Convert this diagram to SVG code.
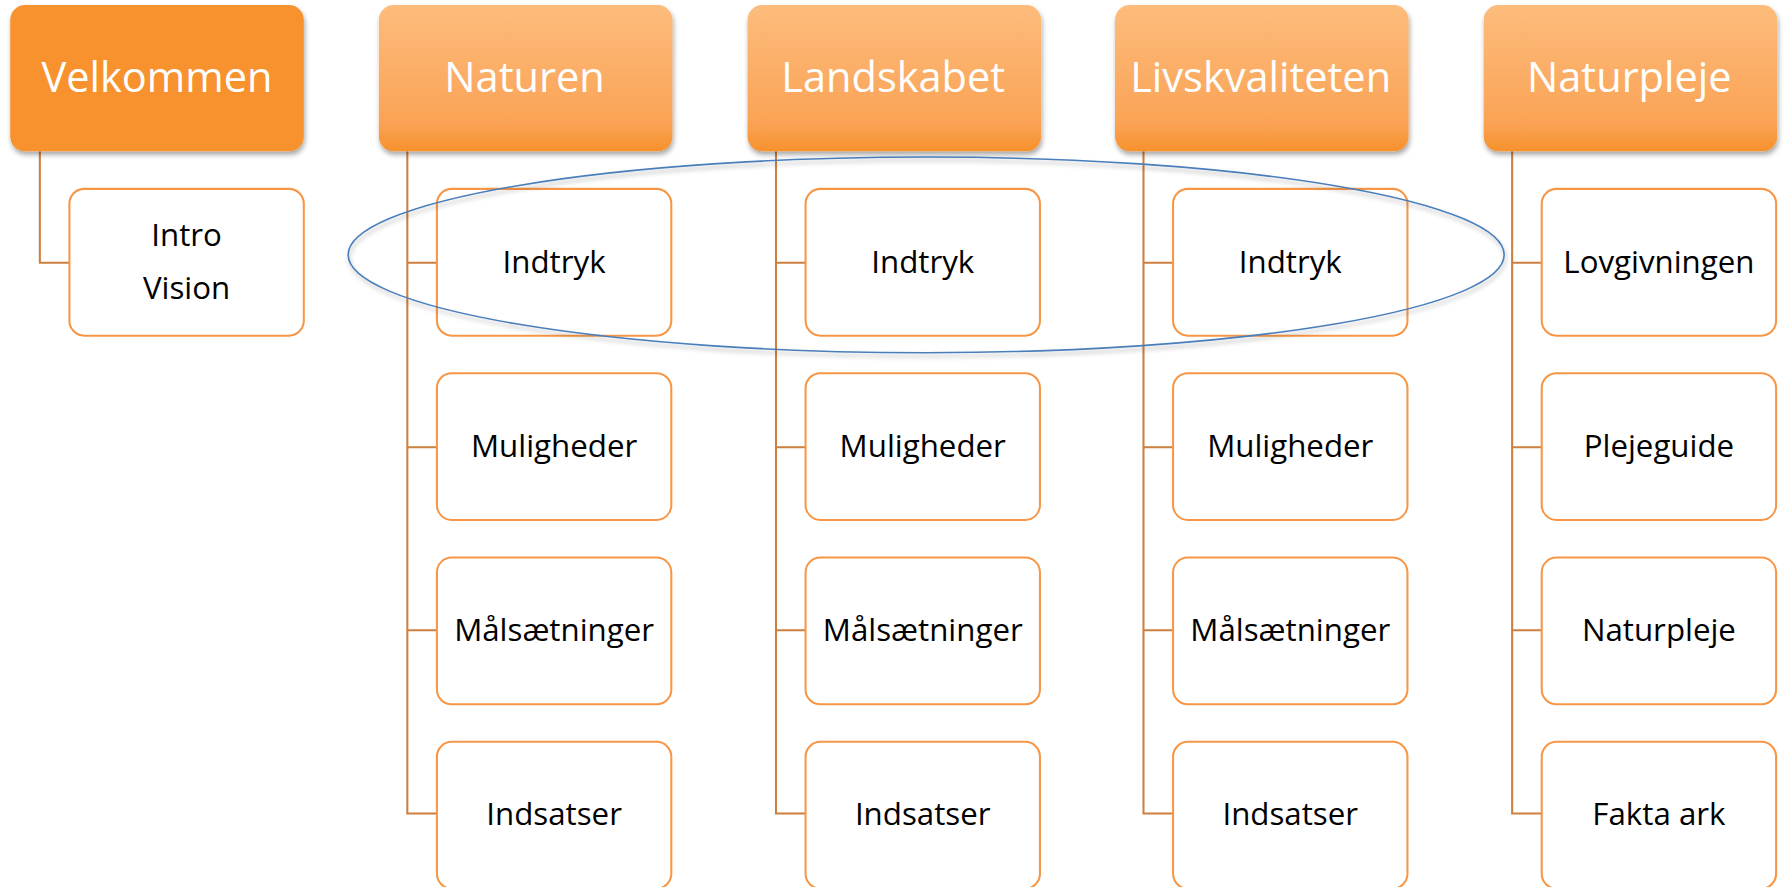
<svg xmlns="http://www.w3.org/2000/svg" width="1783" height="887" viewBox="0 0 1783 887">
<style>
.ht{font-family:"Open Sans","Liberation Sans",sans-serif;font-size:36.5px;fill:#fff;text-anchor:middle}
.cb{fill:#fff;stroke:#F79646;stroke-width:1.8}
.ct{font-family:"Open Sans","Liberation Sans",sans-serif;font-size:27.5px;fill:#000;text-anchor:middle}
.conn path{fill:none;stroke:#CD7F3E;stroke-width:1.8}
</style>
<defs>
<linearGradient id="g" x1="0" y1="0" x2="0" y2="1">
<stop offset="0" stop-color="#FDBC7C"/>
<stop offset="0.8" stop-color="#FAA356"/>
<stop offset="1" stop-color="#F7912C"/>
</linearGradient>
<filter id="sh" x="-10%" y="-10%" width="130%" height="140%">
<feDropShadow dx="1" dy="3" stdDeviation="2.5" flood-color="#000" flood-opacity="0.35"/>
</filter>
<filter id="esh" x="-5%" y="-20%" width="110%" height="150%">
<feDropShadow dx="1" dy="3" stdDeviation="2" flood-color="#000" flood-opacity="0.3"/>
</filter>
</defs>
<rect width="1783" height="887" fill="#fff"/>
<g transform="scale(1.1378)">
<g class="conn">
<path d="M35 133V231H61"/>
<path d="M358 133V715H384M358 231H384M358 393H384M358 554H384"/>
<path d="M682 133V715H708M682 231H708M682 393H708M682 554H708"/>
<path d="M1005 133V715H1031M1005 231H1031M1005 393H1031M1005 554H1031"/>
<path d="M1329 133V715H1355M1329 231H1355M1329 393H1355M1329 554H1355"/>
</g>
<g id="velkommen"><rect x="9" y="4.5" width="258" height="128.5" rx="13" fill="#F7922E" filter="url(#sh)"/><text class="ht" x="138" y="81">Velkommen</text></g>
<g id="naturen"><rect x="333" y="4.5" width="258" height="128.5" rx="13" fill="url(#g)" filter="url(#sh)"/><text class="ht" x="461" y="81">Naturen</text></g>
<g id="landskabet"><rect x="657" y="4.5" width="258" height="128.5" rx="13" fill="url(#g)" filter="url(#sh)"/><text class="ht" x="785" y="81">Landskabet</text></g>
<g id="livskvaliteten"><rect x="980" y="4.5" width="258" height="128.5" rx="13" fill="url(#g)" filter="url(#sh)"/><text class="ht" x="1108" y="81">Livskvaliteten</text></g>
<g id="naturpleje-h"><rect x="1304" y="4.5" width="258" height="128.5" rx="13" fill="url(#g)" filter="url(#sh)"/><text class="ht" x="1432" y="81">Naturpleje</text></g>

<g id="intro"><rect class="cb" x="61" y="166" width="206" height="129" rx="13"/><text class="ct" x="164" y="216">Intro</text><text class="ct" x="164" y="263">Vision</text></g>

<g id="n1"><rect class="cb" x="384" y="166" width="206" height="129" rx="13"/><text class="ct" x="487" y="240">Indtryk</text></g>
<g id="n2"><rect class="cb" x="384" y="328" width="206" height="129" rx="13"/><text class="ct" x="487" y="402">Muligheder</text></g>
<g id="n3"><rect class="cb" x="384" y="490" width="206" height="129" rx="13"/><text class="ct" x="487" y="563">Målsætninger</text></g>
<g id="n4"><rect class="cb" x="384" y="652" width="206" height="129" rx="13"/><text class="ct" x="487" y="725">Indsatser</text></g>

<g id="l1"><rect class="cb" x="708" y="166" width="206" height="129" rx="13"/><text class="ct" x="811" y="240">Indtryk</text></g>
<g id="l2"><rect class="cb" x="708" y="328" width="206" height="129" rx="13"/><text class="ct" x="811" y="402">Muligheder</text></g>
<g id="l3"><rect class="cb" x="708" y="490" width="206" height="129" rx="13"/><text class="ct" x="811" y="563">Målsætninger</text></g>
<g id="l4"><rect class="cb" x="708" y="652" width="206" height="129" rx="13"/><text class="ct" x="811" y="725">Indsatser</text></g>

<g id="v1"><rect class="cb" x="1031" y="166" width="206" height="129" rx="13"/><text class="ct" x="1134" y="240">Indtryk</text></g>
<g id="v2"><rect class="cb" x="1031" y="328" width="206" height="129" rx="13"/><text class="ct" x="1134" y="402">Muligheder</text></g>
<g id="v3"><rect class="cb" x="1031" y="490" width="206" height="129" rx="13"/><text class="ct" x="1134" y="563">Målsætninger</text></g>
<g id="v4"><rect class="cb" x="1031" y="652" width="206" height="129" rx="13"/><text class="ct" x="1134" y="725">Indsatser</text></g>

<g id="p1"><rect class="cb" x="1355" y="166" width="206" height="129" rx="13"/><text class="ct" x="1458" y="240">Lovgivningen</text></g>
<g id="p2"><rect class="cb" x="1355" y="328" width="206" height="129" rx="13"/><text class="ct" x="1458" y="402">Plejeguide</text></g>
<g id="p3"><rect class="cb" x="1355" y="490" width="206" height="129" rx="13"/><text class="ct" x="1458" y="563">Naturpleje</text></g>
<g id="p4"><rect class="cb" x="1355" y="652" width="206" height="129" rx="13"/><text class="ct" x="1458" y="725">Fakta ark</text></g>

<g id="highlight"><ellipse cx="814" cy="224" rx="508" ry="86" fill="none" stroke="#4A7EBB" stroke-width="1.4" filter="url(#esh)"/></g>
</g>
</svg>
